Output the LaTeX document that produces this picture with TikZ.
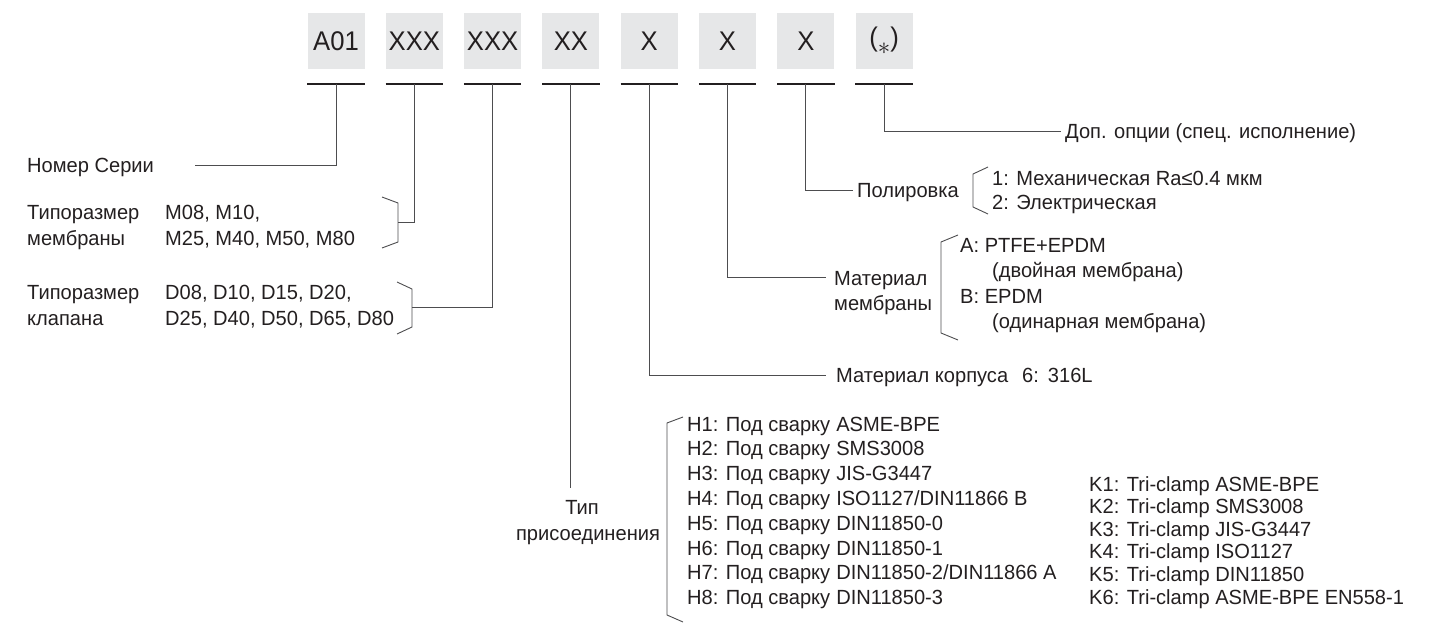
\documentclass[tikz,border=0pt]{standalone}
\usepackage{fontspec}
\setmainfont{Liberation Sans}[FakeStretch=0.98]
\newfontfamily\boxfont{Liberation Sans}[FakeStretch=0.95]
\definecolor{ink}{HTML}{231F20}
\definecolor{boxgray}{HTML}{E6E7E8}
\definecolor{linegray}{HTML}{4D4D4F}
\begin{document}
\begin{tikzpicture}[x=1pt,y=-1pt,
  lbl/.style={anchor=base west, inner sep=0pt, text=ink, font=\fontsize{20.5}{23}\selectfont},
  lblc/.style={anchor=base, inner sep=0pt, text=ink, font=\fontsize{20.5}{23}\selectfont},
  codebox/.style={fill=boxgray, minimum width=57pt, minimum height=56pt, inner sep=0pt, text=ink, font=\boxfont\fontsize{27}{30}\selectfont},
  uline/.style={draw=ink, line width=2.5pt},
  conn/.style={draw=linegray, line width=1pt},
  brk/.style={draw=linegray, line width=0.9pt, line join=miter}]
\useasboundingbox (0,0) rectangle (1431,626);

% code boxes
\foreach \t [count=\n] in {A01,XXX,XXX,XX,X,X,X,{(\raisebox{-0.3em}{\fontsize{34}{34}\selectfont$\ast$})}}{
  \node[codebox] (b\n) at ({336+78.3*(\n-1)},41) {\t};
  \coordinate (u\n) at ({336+78.3*(\n-1)},84);
  \draw[uline] (b\n.south west |- u\n) -- (b\n.south east |- u\n);
}

% series number
\node[lbl] (nomer) at (27,172) {Номер Серии};
\coordinate (nomerEnd) at (195,165);
\draw[conn] (u1) |- (nomerEnd);

% membrane size
\node[lbl] (tm1) at (27,219) {Типоразмер};
\node[lbl] (tm2) at (27,245) {мембраны};
\node[lbl] (m1) at (165,219) {M08, M10,};
\node[lbl] (m2) at (165,245) {M25, M40, M50, M80};
\draw[brk] (382,197) -- (398,203) -- (398,242) -- (382,248);
\coordinate (mB) at (398,222);
\draw[conn] (u2) |- (mB);

% valve size
\node[lbl] (tk1) at (27,299) {Типоразмер};
\node[lbl] (tk2) at (27,325) {клапана};
\node[lbl] (d1) at (165,299) {D08, D10, D15, D20,};
\node[lbl] (d2) at (165,325) {D25, D40, D50, D65, D80};
\draw[brk] (397,282) -- (412,289) -- (412,327) -- (397,334);
\coordinate (dB) at (412,307);
\draw[conn] (u3) |- (dB);

% connection type
\node[lblc] (tip1) at (582,514) {Тип};
\node[lblc] (tip2) at (588,540) {присоединения};
\coordinate (tipEnd) at (571,488);
\draw[conn] (u4) -- (u4 |- tipEnd);

% body material
\node[lbl] (korp) at (836,382) {Материал корпуса\hspace{14pt}6:\hspace{9pt}316L};
\coordinate (korpEnd) at (826,375);
\draw[conn] (u5) |- (korpEnd);

% membrane material
\node[lbl] (mm1) at (834,285) {Материал};
\node[lbl] (mm2) at (834,310) {мембраны};
\coordinate (memEnd) at (826,277);
\draw[conn] (u6) |- (memEnd);
\draw[brk] (958,235) -- (941,242) -- (941,333) -- (958,340);
\node[lbl] (ma) at (960,252) {A: PTFE+EPDM};
\node[lbl] (ma2) at (992,277) {(двойная мембрана)};
\node[lbl] (mb) at (960,303) {B: EPDM};
\node[lbl] (mb2) at (992,328) {(одинарная мембрана)};

% polishing
\node[lbl] (pol) at (857,197) {Полировка};
\coordinate (polEnd) at (853,190);
\draw[conn] (u7) |- (polEnd);
\draw[brk] (988,167) -- (973,174) -- (973,207) -- (988,214);
\node[lbl] (p1) at (992,185) {1: Механическая Ra≤0.4 мкм};
\node[lbl] (p2) at (992,209) {2: Электрическая};

% options
\node[lbl] (dop) at (1065,138) {Доп. опции (спец. исполнение)};
\coordinate (dopEnd) at (1061,131);
\draw[conn] (u8) |- (dopEnd);

% H list
\draw[brk] (683,417) -- (667,423) -- (667,615) -- (683,622);
\foreach \s [count=\n] in {ASME-BPE,SMS3008,JIS-G3447,ISO1127/DIN11866 B,DIN11850-0,DIN11850-1,DIN11850-2/DIN11866 A,DIN11850-3}{
  \node[lbl] (h\n) at (687,{431+24.8*(\n-1)}) {H\n: Под сварку\hspace{6pt}\s};
}

% K list
\foreach \s [count=\n] in {ASME-BPE,SMS3008,JIS-G3447,ISO1127,DIN11850,ASME-BPE EN558-1}{
  \node[lbl] (k\n) at (1089,{491+22.6*(\n-1)}) {K\n: Tri-clamp \s};
}
\end{tikzpicture}
\end{document}
